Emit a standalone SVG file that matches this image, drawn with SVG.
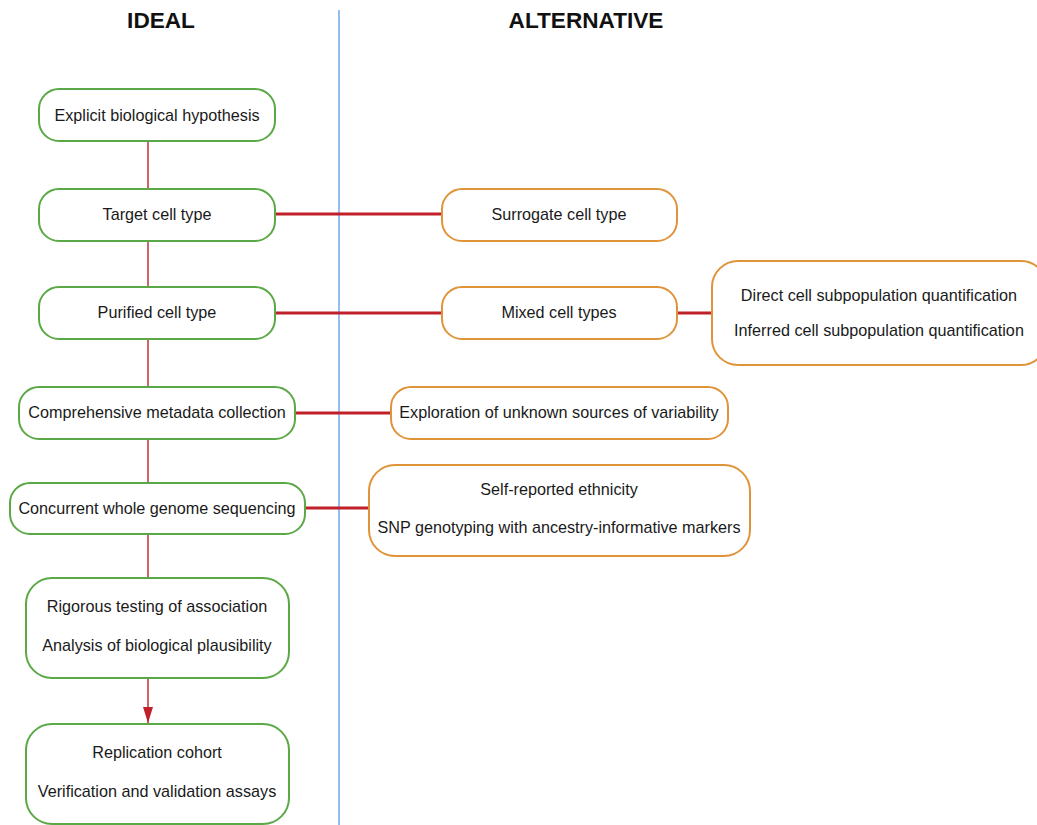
<svg xmlns="http://www.w3.org/2000/svg" width="1037" height="825" viewBox="0 0 1037 825">
<defs>
<style>
.g{fill:#fff;stroke:#5aa846;stroke-width:2}
.o{fill:#fff;stroke:#e0943a;stroke-width:2}
.t{font-family:"Liberation Sans",Arial,sans-serif;font-size:16.2px;fill:#1a1a1a;text-anchor:middle}
.h{font-family:"Liberation Sans",Arial,sans-serif;font-size:22.6px;font-weight:bold;fill:#111;text-anchor:middle}
.v{stroke:#c0303a;stroke-width:1.5;fill:none}
.r{stroke:#c0202a;stroke-width:3;fill:none}
</style>
<marker id="ah" viewBox="0 0 16 10" refX="16" refY="5" markerWidth="16" markerHeight="10" markerUnits="userSpaceOnUse" orient="auto"><path d="M0,0 L16,5 L0,10 z" fill="#c0202a"/></marker>
</defs>
<rect width="1037" height="825" fill="#fff"/>
<text class="h" x="161" y="28">IDEAL</text>
<text class="h" x="586" y="28">ALTERNATIVE</text>
<line x1="339" y1="10" x2="339" y2="825" stroke="#6fa8e8" stroke-width="1.5"/>
<g id="connectors">
<line class="v" x1="148" y1="141" x2="148" y2="189"/>
<line class="v" x1="148" y1="241" x2="148" y2="287"/>
<line class="v" x1="148" y1="339" x2="148" y2="387"/>
<line class="v" x1="148" y1="439" x2="148" y2="483"/>
<line class="v" x1="148" y1="534" x2="148" y2="578"/>
<line class="v" x1="148" y1="678" x2="148" y2="723" marker-end="url(#ah)"/>
<line class="r" x1="275" y1="214" x2="442" y2="214"/>
<line class="r" x1="275" y1="313" x2="442" y2="313"/>
<line class="r" x1="677" y1="313" x2="712" y2="313"/>
<line class="r" x1="295" y1="413" x2="391" y2="413"/>
<line class="r" x1="305" y1="508" x2="369" y2="508"/>
</g>
<g id="n1"><rect class="g" x="39" y="89" width="236" height="52" rx="20"/><text class="t" x="157" y="121">Explicit biological hypothesis</text></g>
<g id="n2"><rect class="g" x="39" y="189" width="236" height="52" rx="20"/><text class="t" x="157" y="220">Target cell type</text></g>
<g id="n3"><rect class="g" x="39" y="287" width="236" height="52" rx="20"/><text class="t" x="157" y="318">Purified cell type</text></g>
<g id="n4"><rect class="g" x="19" y="387" width="276" height="52" rx="20"/><text class="t" x="157" y="418">Comprehensive metadata collection</text></g>
<g id="n5"><rect class="g" x="10" y="483" width="295" height="51" rx="20"/><text class="t" x="157" y="514">Concurrent whole genome sequencing</text></g>
<g id="n6"><rect class="g" x="26" y="578" width="263" height="100" rx="26"/><text class="t" x="157" y="612">Rigorous testing of association</text><text class="t" x="157" y="651">Analysis of biological plausibility</text></g>
<g id="n7"><rect class="g" x="26" y="724" width="263" height="100" rx="26"/><text class="t" x="157" y="758">Replication cohort</text><text class="t" x="157" y="797">Verification and validation assays</text></g>
<g id="a1"><rect class="o" x="442" y="189" width="235" height="52" rx="20"/><text class="t" x="559" y="220">Surrogate cell type</text></g>
<g id="a2"><rect class="o" x="442" y="287" width="235" height="52" rx="20"/><text class="t" x="559" y="318">Mixed cell types</text></g>
<g id="a3"><rect class="o" x="712" y="261" width="335" height="104" rx="26"/><text class="t" x="879" y="301">Direct cell subpopulation quantification</text><text class="t" x="879" y="336">Inferred cell subpopulation quantification</text></g>
<g id="a4"><rect class="o" x="391" y="387" width="337" height="52" rx="20"/><text class="t" x="559" y="418">Exploration of unknown sources of variability</text></g>
<g id="a5"><rect class="o" x="369" y="465" width="381" height="91" rx="26"/><text class="t" x="559" y="495">Self-reported ethnicity</text><text class="t" x="559" y="533">SNP genotyping with ancestry-informative markers</text></g>
</svg>
